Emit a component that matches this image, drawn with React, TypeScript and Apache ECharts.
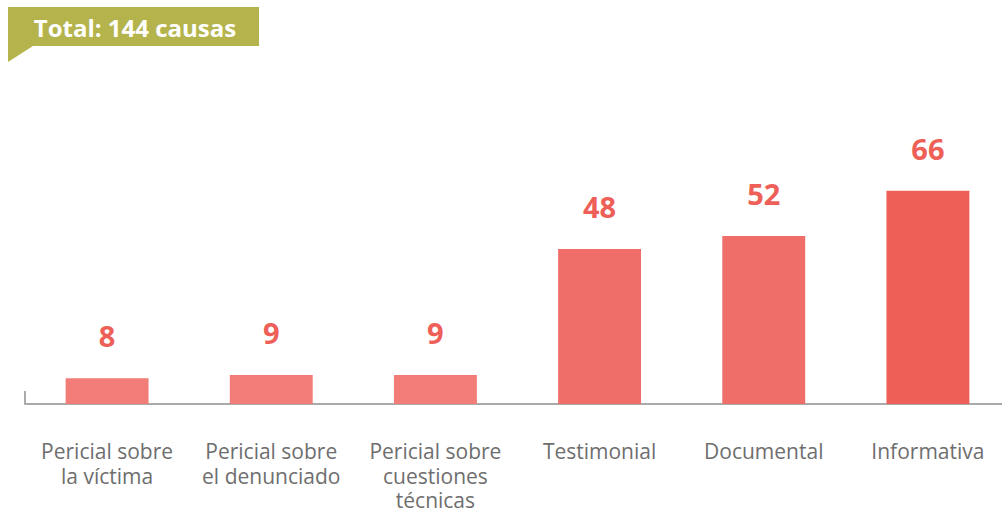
import React, { useEffect, useRef } from "react";
import * as echarts from "echarts";

const categories = [
  "Pericial sobre\nla víctima",
  "Pericial sobre\nel denunciado",
  "Pericial sobre\ncuestiones\ntécnicas",
  "Testimonial",
  "Documental",
  "Informativa",
];
const values = [8, 9, 9, 48, 52, 66];
const barColors = ["#F27C77", "#F27C77", "#F27C77", "#EF6E69", "#EF6E69", "#EE6057"];
const titleText = "Total: 144 causas";

export default function App() {
  const ref = useRef<HTMLDivElement>(null);
  useEffect(() => {
    if (!ref.current) return;
    const chart = echarts.init(ref.current, null, { renderer: "svg" });
    chart.setOption({
      animation: false,
      grid: { left: 25, right: -8, top: 81, bottom: 106, outerBoundsMode: "none", containLabel: false },
      xAxis: {
        type: "category",
        data: categories,
        axisLine: { show: true, lineStyle: { color: "#A9AAAA", width: 2 } },
        axisTick: { show: false },
        axisLabel: {
          interval: 0,
          margin: 35,
          color: "#6E6E6E",
          fontFamily: "Open Sans",
          fontSize: 21,
          lineHeight: 24.5,
          align: "center",
        },
      },
      yAxis: {
        type: "value",
        min: 0,
        max: 100,
        show: false,
        splitLine: { show: false },
      },
      series: [
        {
          type: "bar",
          barWidth: "50.5%",
          data: values.map((v, i) => ({ value: v, itemStyle: { color: barColors[i] } })),
          label: {
            show: true,
            position: "top",
            distance: 28,
            color: "#EE6057",
            fontFamily: "Open Sans",
            fontWeight: "bold",
            fontSize: 29,
          },
        },
      ],
      graphic: [
        {
          type: "line",
          shape: { x1: 25, y1: 391, x2: 25, y2: 404 },
          style: { stroke: "#A9AAAA", lineWidth: 2 },
        },
        {
          type: "polygon",
          shape: { points: [[8, 7], [259, 7], [259, 46], [33, 46], [8, 62]] },
          style: { fill: "#B5B44C" },
        },
        {
          type: "text",
          x: 135,
          y: 27,
          style: {
            text: titleText,
            fill: "#FFFFFF",
            font: "bold 24px 'Open Sans'",
            align: "center",
            verticalAlign: "middle",
          },
        },
      ],
    });
    return () => chart.dispose();
  }, []);
  return <div ref={ref} style={{ position: "absolute", left: 0, top: 0, width: 1002, height: 510 }} />;
}
